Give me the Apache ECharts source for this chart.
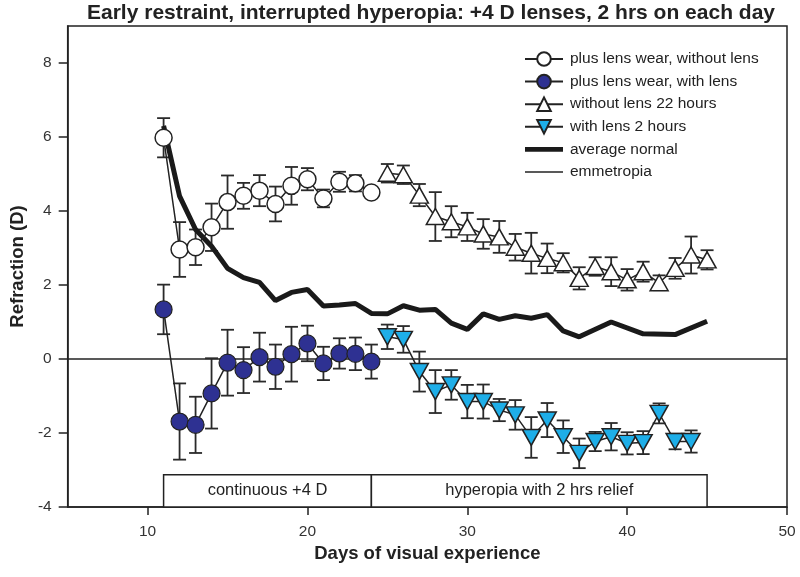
<!DOCTYPE html>
<html>
<head>
<meta charset="utf-8">
<script src="https://cdn.jsdelivr.net/npm/echarts@6/dist/echarts.min.js"></script>
<style>
html,body{margin:0;padding:0;background:#fff;}
#chart{width:800px;height:577px;}
</style>
</head>
<body>
<div id="chart"></div>
<script>
// ---- data ----
const circleDays = [11,12,13,14,15,16,17,18,19,20,21,22,23,24];
const openMean = [5.98,2.96,3.02,3.56,4.24,4.41,4.55,4.19,4.68,4.86,4.34,4.79,4.75,4.50];
const openErr  = [0.53,0.74,0.48,0.64,0.72,0.35,0.42,0.47,0.51,0.30,0.24,0.27,0.22,0.12];
const filledMean = [1.34,-1.69,-1.78,-0.93,-0.10,-0.30,0.05,-0.21,0.13,0.42,-0.12,0.15,0.14,-0.07];
const filledErr  = [0.67,1.03,0.76,0.95,0.89,0.62,0.66,0.60,0.74,0.48,0.45,0.41,0.44,0.46];

const upDays = [25,26,27,28,29,30,31,32,33,34,35,36,37,38,39,40,41,42,43,44,45];
const upMean = [5.02,4.98,4.43,3.85,3.71,3.57,3.38,3.30,3.02,2.86,2.72,2.60,2.18,2.50,2.36,2.14,2.36,2.06,2.45,2.81,2.68];
const upErr  = [0.25,0.25,0.30,0.66,0.42,0.38,0.40,0.43,0.36,0.55,0.40,0.26,0.30,0.25,0.39,0.29,0.27,0.20,0.28,0.50,0.26];

const downDays = [25,26,27,28,29,30,31,32,33,34,35,36,37,38,39,40,41,42,43,44];
const downMean = [0.60,0.53,-0.34,-0.88,-0.70,-1.15,-1.15,-1.38,-1.51,-2.12,-1.65,-2.10,-2.55,-2.23,-2.10,-2.28,-2.26,-1.47,-2.23,-2.23];
const downErr  = [0.33,0.36,0.54,0.58,0.40,0.45,0.46,0.30,0.40,0.55,0.46,0.44,0.40,0.26,0.37,0.30,0.31,0.27,0.21,0.30];

const normalDays = [11,12,13,14,15,16,17,18,19,20,21,22,23,24,25,26,27,28,29,30,31,32,33,34,35,36,37,39,41,43,45];
const normalMean = [6.30,4.40,3.50,3.05,2.45,2.20,2.07,1.58,1.80,1.88,1.43,1.46,1.50,1.23,1.22,1.44,1.32,1.34,0.97,0.80,1.22,1.07,1.17,1.10,1.20,0.76,0.60,1.00,0.68,0.66,1.02];

const emmetropiaX = [5,50];
const emmetropiaY = [0,0];

const xTicks = [10,20,30,40,50];
const yTicks = [-4,-2,0,2,4,6,8];

const phaseLabels = ['continuous +4 D','hyperopia with 2 hrs relief'];
const phaseStart = [11,24];
const phaseEnd = [24,45];
const phaseBottom = -4;
const phaseTop = -3.13;

const seriesNames = ['plus lens wear, without lens','plus lens wear, with lens','without lens 22 hours','with lens 2 hours','average normal','emmetropia'];

// ---- helpers ----
const zip = (xs, ys) => xs.map((x,i)=>[x, ys[i]]);
const errData = (xs, m, e) => xs.map((x,i)=>[x, m[i]-e[i], m[i]+e[i]]);

const FONT = '"Liberation Sans", Arial, sans-serif';
const INK = '#222';

function errRender(params, api){
  const x = api.value(0), lo = api.value(1), hi = api.value(2);
  const p1 = api.coord([x, hi]);
  const p2 = api.coord([x, lo]);
  const w = 6.5;
  const st = {stroke:'#2a2a2a', lineWidth:1.8};
  return {type:'group', children:[
    {type:'line', shape:{x1:p1[0], y1:p1[1], x2:p2[0], y2:p2[1]}, style:st},
    {type:'line', shape:{x1:p1[0]-w, y1:p1[1], x2:p1[0]+w, y2:p1[1]}, style:st},
    {type:'line', shape:{x1:p2[0]-w, y1:p2[1], x2:p2[0]+w, y2:p2[1]}, style:st}
  ]};
}
function errSeries(data){
  return {type:'custom', renderItem:errRender, data:data, encode:{x:0, y:[1,2]}, z:2, silent:true};
}

const downTri = 'path://M0,0 L20,0 L10,17 Z';
const upTri = 'path://M10,0 L20,17 L0,17 Z';
const thickIcon = 'path://M0,0 L40,0 L40,5 L0,5 Z';
const thinIcon = 'path://M0,0 L40,0 L40,1.6 L0,1.6 Z';

const chart = echarts.init(document.getElementById('chart'), null, {renderer:'canvas'});
chart.setOption({
  animation:false,
  backgroundColor:'#fff',
  textStyle:{fontFamily:FONT},
  title:{
    text:'Early restraint, interrupted hyperopia: +4 D lenses, 2 hrs on each day',
    left:431, textAlign:'center', top:3, padding:0,
    textStyle:{fontFamily:FONT, fontSize:21, fontWeight:'bold', color:INK}
  },
  grid:{left:66, right:13, top:26, bottom:70, show:true, borderColor:INK, borderWidth:1.5, backgroundColor:'transparent'},
  legend:{
    data:[
      {name:seriesNames[0]},
      {name:seriesNames[1]},
      {name:seriesNames[2]},
      {name:seriesNames[3]},
      {name:seriesNames[4], icon:thickIcon},
      {name:seriesNames[5], icon:thinIcon}
    ],
    orient:'vertical', left:524, top:51, padding:0,
    itemWidth:38, itemHeight:17, itemGap:6.6,
    textStyle:{fontFamily:FONT, fontSize:15.5, color:INK, padding:[0,0,0,2]},
    selectedMode:false
  },
  xAxis:{
    type:'value', min:5, max:50,
    name:'Days of visual experience', nameLocation:'middle', nameGap:31,
    nameTextStyle:{fontFamily:FONT, fontSize:18.5, fontWeight:'bold', color:INK},
    axisLine:{onZero:false, lineStyle:{color:INK, width:1.5}},
    axisTick:{customValues:xTicks, length:8, lineStyle:{color:INK, width:1.5}},
    axisLabel:{customValues:xTicks, fontSize:15.5, color:'#333', margin:17},
    splitLine:{show:false}
  },
  yAxis:{
    type:'value', min:-4, max:9,
    name:'Refraction (D)', nameLocation:'middle', nameGap:35, nameRotate:90,
    nameTextStyle:{fontFamily:FONT, fontSize:18.5, fontWeight:'bold', color:INK},
    axisLine:{show:true, onZero:false, lineStyle:{color:INK, width:1.5}},
    axisTick:{show:true, customValues:yTicks, length:9, lineStyle:{color:INK, width:1.5}},
    axisLabel:{customValues:yTicks, fontSize:15.5, color:'#333', margin:16},
    splitLine:{show:false}
  },
  series:[
    errSeries(errData(circleDays, openMean, openErr)),
    errSeries(errData(circleDays, filledMean, filledErr)),
    errSeries(errData(upDays, upMean, upErr)),
    errSeries(errData(downDays, downMean, downErr)),
    {
      name:seriesNames[0], type:'line', data:zip(circleDays, openMean),
      symbol:'circle', symbolSize:17, z:4,
      itemStyle:{color:'#fff', borderColor:INK, borderWidth:1.5},
      lineStyle:{color:INK, width:1.5}
    },
    {
      name:seriesNames[1], type:'line', data:zip(circleDays, filledMean),
      symbol:'circle', symbolSize:17, z:4,
      itemStyle:{color:'#2e3192', borderColor:INK, borderWidth:1.2},
      lineStyle:{color:INK, width:1.5}
    },
    {
      name:seriesNames[2], type:'line', data:zip(upDays, upMean),
      symbol:upTri, symbolSize:[18,16], z:4,
      itemStyle:{color:'#fff', borderColor:INK, borderWidth:1.5},
      lineStyle:{color:INK, width:1.5}
    },
    {
      name:seriesNames[3], type:'line', data:zip(downDays, downMean),
      symbol:downTri, symbolSize:[18,16], z:4,
      itemStyle:{color:'#1eaee8', borderColor:INK, borderWidth:1.5},
      lineStyle:{color:INK, width:1.5}
    },
    {
      name:seriesNames[4], type:'line', data:zip(normalDays, normalMean),
      symbol:'none', z:3,
      itemStyle:{color:'#1a1a1a'},
      lineStyle:{color:'#1a1a1a', width:5}
    },
    {
      name:seriesNames[5], type:'line', data:zip(emmetropiaX, emmetropiaY),
      symbol:'none', z:1,
      itemStyle:{color:INK},
      lineStyle:{color:INK, width:1.5},
      markArea:{
        silent:true,
        itemStyle:{color:'#fff', borderColor:INK, borderWidth:1.5},
        label:{position:'inside', fontFamily:FONT, fontSize:16.5, color:INK},
        data: phaseLabels.map((t,i)=>[
          {name:t, coord:[phaseStart[i], phaseBottom]},
          {coord:[phaseEnd[i], phaseTop]}
        ])
      }
    }
  ]
});
</script>
</body>
</html>
